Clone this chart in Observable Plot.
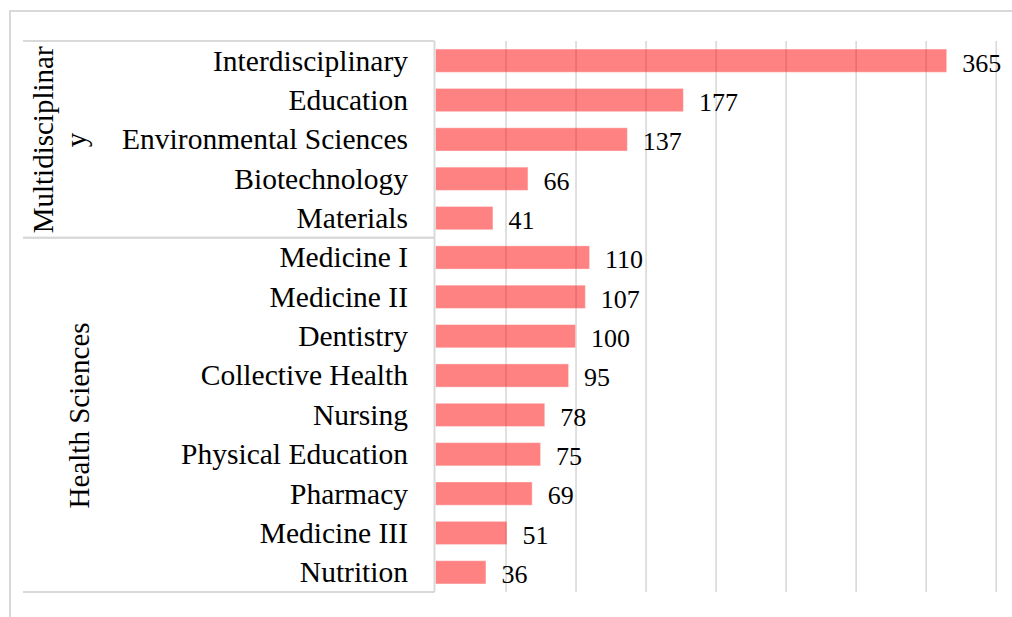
<!DOCTYPE html>
<html>
<head>
<meta charset="utf-8">
<script src="https://cdn.jsdelivr.net/npm/d3@7"></script>
<script src="https://cdn.jsdelivr.net/npm/@observablehq/plot@0.6"></script>
<style>
  html, body { margin: 0; padding: 0; background: #fff; }
  #wrap { position: relative; width: 1012px; height: 617px; overflow: hidden; }
  #frame { position: absolute; left: 9px; top: 10px; width: 1100px; height: 700px;
           border-left: 2px solid #d9d9d9; border-top: 2px solid #d9d9d9; }
  #chart { position: absolute; left: 0; top: 0; }
</style>
</head>
<body>
<div id="wrap"><div id="frame"></div><div id="chart"></div></div>
<script>
// ---- data ----
const categories = ["Interdisciplinary", "Education", "Environmental Sciences", "Biotechnology", "Materials",
  "Medicine I", "Medicine II", "Dentistry", "Collective Health", "Nursing",
  "Physical Education", "Pharmacy", "Medicine III", "Nutrition"];
const values = [365, 177, 137, 66, 41, 110, 107, 100, 95, 78, 75, 69, 51, 36];
const groupNames = ["Multidisciplinary", "Health Sciences"];
const groupLabels = ["Multidisciplinar\ny", "Health Sciences"];
const groupSizes = [5, 9];
const gridTicks = [50, 100, 150, 200, 250, 300, 350, 400];

// ---- derived tables ----
const data = categories.map((c, i) => ({category: c, value: values[i]}));
let start = 0;
const groups = groupNames.map((g, i) => {
  const cats = categories.slice(start, start + groupSizes[i]);
  start += groupSizes[i];
  return {name: g, label: groupLabels[i], cats, mid: cats[Math.floor(cats.length / 2)]};
});

const font = "'Liberation Serif', 'Times New Roman', serif";
const lineColor = "#d9d9d9";

// table lines drawn from the y band scale
function tableLines(index, scales, values, dimensions) {
  const y = scales.y;
  const step = y.step(), bw = y.bandwidth();
  const half = (step - bw) / 2;
  const xr = dimensions.marginLeft - 1;
  const xl = 23;
  const g = d3.create("svg:g").attr("stroke", lineColor).attr("stroke-width", 2).attr("fill", "none");
  let top = null, bottom = null;
  groups.forEach(gr => {
    const y0 = y(gr.cats[0]) - half;
    const y1 = y(gr.cats[gr.cats.length - 1]) + bw + half;
    if (top === null) top = y0;
    bottom = y1;
    g.append("line").attr("x1", xl).attr("x2", xr).attr("y1", y0).attr("y2", y0);
    g.append("line").attr("x1", xl).attr("x2", xr).attr("y1", y1).attr("y2", y1);
  });
  g.append("line").attr("x1", xr).attr("x2", xr).attr("y1", top).attr("y2", bottom);
  return g.node();
}

const chart = Plot.plot({
  width: 1012,
  height: 617,
  marginTop: 41,
  marginBottom: 25,
  marginLeft: 435.5,
  marginRight: 16.3,
  style: {fontFamily: font, background: "transparent", color: "#000"},
  x: {domain: [0, 400], axis: null},
  y: {domain: categories, paddingInner: 0.41, paddingOuter: 0.205, round: false, axis: null},
  marks: [
    Plot.ruleX(gridTicks, {x: d => d, stroke: lineColor, strokeWidth: 1.6}),
    Plot.barX(data, {x: "value", y: "category", fill: "#ff0000", fillOpacity: 0.49, stroke: "#ffffff", strokeOpacity: 0.35, strokeWidth: 1}),
    Plot.text(data, {x: "value", y: "category", text: d => String(d.value), textAnchor: "start", dx: 15, dy: 2, fontSize: 26, fill: "#000"}),
    Plot.axisY({tickSize: 0, tickPadding: 28, fontSize: 29.5, fill: "#000", label: null}),
    Plot.text(groups, {y: "mid", text: "label", frameAnchor: "left", textAnchor: "middle", rotate: -90, dx: -377, lineHeight: 1.12, fontSize: 29, fill: "#000", filter: d => d.cats.length < 8}),
    Plot.text(groups, {y: "mid", text: "label", frameAnchor: "left", textAnchor: "middle", rotate: -90, dx: -356, fontSize: 29, fill: "#000", filter: d => d.cats.length >= 8}),
    tableLines
  ]
});
document.getElementById("chart").appendChild(chart);
</script>
</body>
</html>
